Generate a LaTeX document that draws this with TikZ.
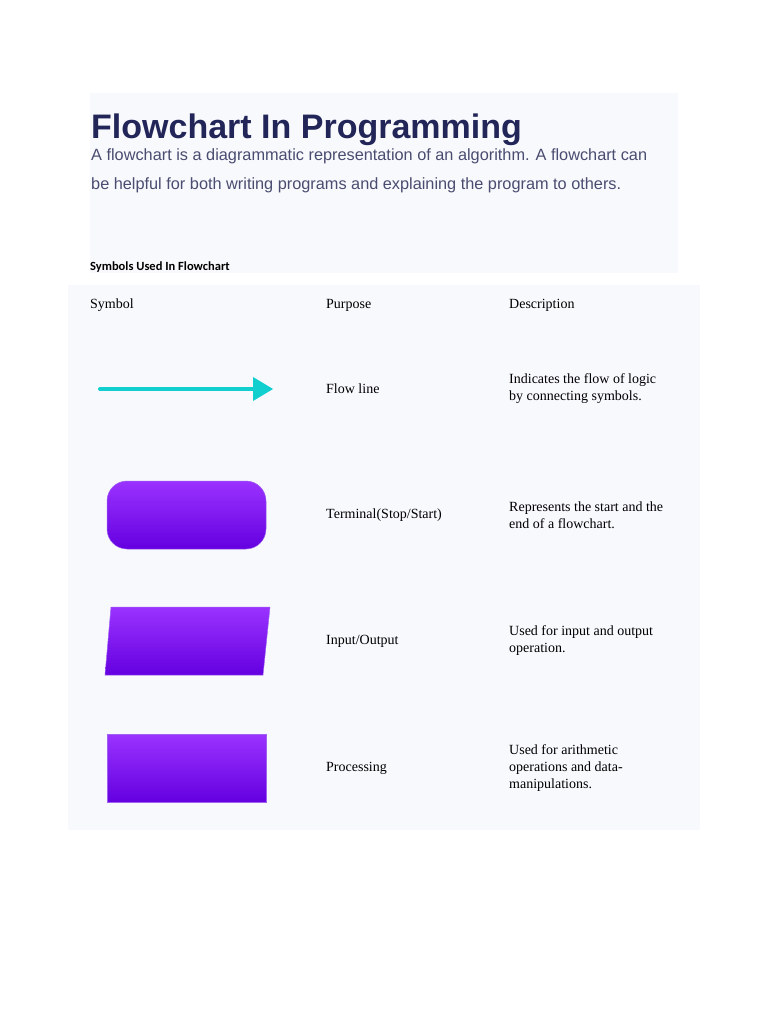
\documentclass[tikz,border=0pt]{standalone}
\usepackage{fontspec}
\setmainfont{Liberation Serif}
\newfontfamily\arialf{Liberation Sans}
\newfontfamily\carl{Carlito}
\begin{document}
\begin{tikzpicture}[x=1pt,y=-1pt,
  shp/.style={top color=pTop,bottom color=pBot,draw=pEdge,line width=0.5pt},
  cell/.style={anchor=west,font=\fontsize{14}{17}\selectfont,text=black,inner sep=0pt,align=left}]
\definecolor{bgp}{HTML}{F8F9FD}
\definecolor{pTop}{HTML}{9A33FF}
\definecolor{pBot}{HTML}{6400E0}
\definecolor{pEdge}{HTML}{A060F0}
\definecolor{teal}{HTML}{12CFCF}
\definecolor{navy}{HTML}{222557}
\definecolor{bodyc}{HTML}{4A4C70}
\useasboundingbox (0,0) rectangle (768,1024);
\fill[white] (0,0) rectangle (768,1024);
\fill[bgp] (90,93) rectangle (678,273);
\fill[bgp] (68,285) rectangle (700,830);
\node[anchor=base west,inner sep=0pt,text=navy,font=\arialf\bfseries\fontsize{34}{40}\selectfont] (title) at (91,139) {Flowchart In Programming};
\node[anchor=base west,inner sep=0pt,text=bodyc,font=\arialf\fontsize{16.3}{29}\selectfont,align=left] (intro) at (91,190) {A flowchart is a diagrammatic representation of an algorithm. A flowchart can\\be helpful for both writing programs and explaining the program to others.};
\node[anchor=base west,inner sep=0pt,font=\carl\bfseries\fontsize{12.5}{15}\selectfont] (sub) at (90,270) {Symbols Used In Flowchart};
\node[cell] (h1) at (90,305) {Symbol};
\node[cell] (h2) at (326,305) {Purpose};
\node[cell] (h3) at (509,305) {Description};
\coordinate (a1) at (100,389);
\coordinate (a2) at (273,389);
\draw[teal,line width=4pt,line cap=round] (a1) -- (255,389);
\fill[teal] (253,377) -- (a2) -- (253,401) -- cycle;
\node[cell] (p1) at (326,389) {Flow line};
\node[cell] (d1) at (509,389) {Indicates the flow of logic\\by connecting symbols.};
\path[shp,rounded corners=20pt] (107,481) rectangle (266,549);
\node[cell] (p2) at (326,515) {Terminal(Stop/Start)};
\node[cell] (d2) at (509,515) {Represents the start and the\\end of a flowchart.};
\path[shp] (111,607) -- (270,607) -- (263,675) -- (105,675) -- cycle;
\node[cell] (p3) at (326,641) {Input/Output};
\node[cell] (d3) at (509,641) {Used for input and output\\operation.};
\path[shp] (107,734) rectangle (266,802);
\node[cell] (p4) at (326,768) {Processing};
\node[cell] (d4) at (509,768) {Used for arithmetic\\operations and data-\\manipulations.};
\end{tikzpicture}
\end{document}
